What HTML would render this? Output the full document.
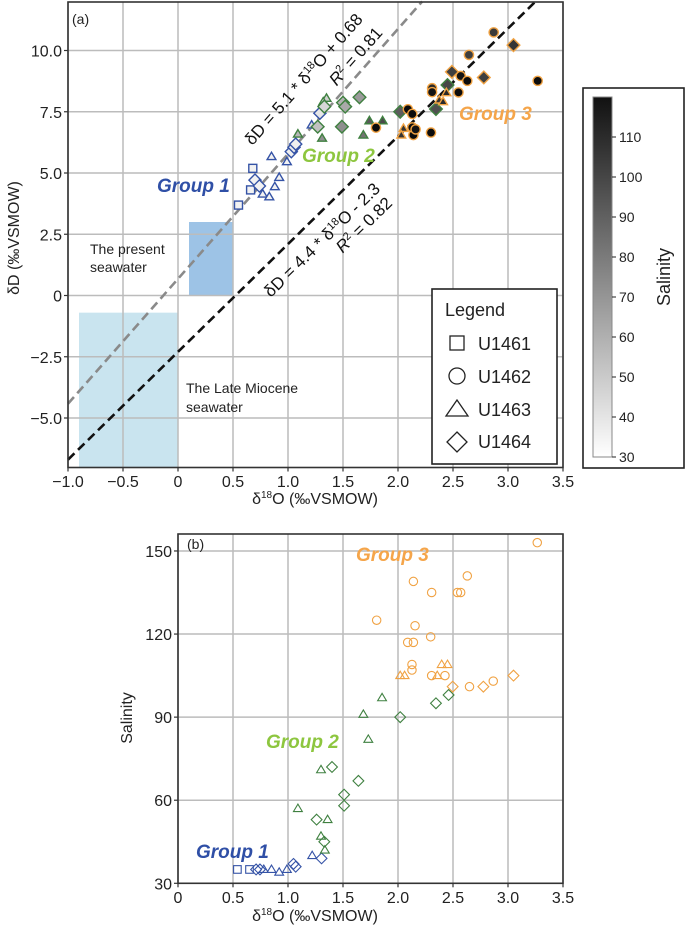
<!DOCTYPE html>
<html><head><meta charset="utf-8">
<style>
html,body{margin:0;padding:0;background:#fff;}
svg{display:block;font-family:"Liberation Sans",Arial,sans-serif;}
</style></head>
<body>
<svg id="fig" width="685" height="928" viewBox="0 0 685 928" xmlns="http://www.w3.org/2000/svg">
<defs>
<linearGradient id="cbg" x1="0" y1="1" x2="0" y2="0">
<stop offset="0" stop-color="#ffffff"/><stop offset="1" stop-color="#111111"/>
</linearGradient>
</defs>
<g id="pa"></g>
<g id="pb"></g>
</svg>
<script>
// ---------- Panel (a) data: [d18O, dD, salinity] ----------
const aXTicks = [-1.0,-0.5,0,0.5,1.0,1.5,2.0,2.5,3.0,3.5];
const aXTickLabels = ["\u22121.0","\u22120.5","0","0.5","1.0","1.5","2.0","2.5","3.0","3.5"];
const aYTicks = [-5,-2.5,0,2.5,5,7.5,10];
const aYTickLabels = ["\u22125.0","\u22122.5","0","2.5","5.0","7.5","10.0"];
const aG1Square = [[0.55,3.69,35],[0.68,5.19,35],[0.66,4.31,35]];
const aG1Diamond = [[0.70,4.71,35],[0.74,4.47,35],[1.03,5.87,36],[1.055,6.05,37],[1.07,6.18,36],[1.29,7.44,39]];
const aG1Triangle = [[0.77,4.14,35],[0.83,4.03,34],[0.88,4.44,35],[0.92,4.82,35],[0.85,5.67,35],[0.99,5.46,35],[1.215,6.96,40]];
const aG2Triangle = [[1.09,6.59,57],[1.31,6.42,71],[1.35,8.05,47],[1.74,7.13,91],[1.86,7.13,97],[1.685,6.55,82],[1.32,7.9,45]];
const aG2Diamond = [[1.27,6.89,53],[1.33,7.71,45],[1.50,7.87,58],[1.52,7.71,62],[1.65,8.09,67],[1.49,6.89,72],[2.02,7.50,90],[2.345,7.61,95],[2.45,8.59,98]];
const aG3Circle = [[1.80,6.85,125],[2.87,10.74,103],[2.645,9.82,101],[2.57,8.96,117],[2.63,8.76,135],[3.27,8.76,153],[2.31,8.46,109],[2.31,8.30,117],[2.55,8.29,135],[2.09,7.60,139],[2.13,7.41,123],[2.13,6.86,119],[2.14,6.55,135],[2.16,6.78,117],[2.30,6.65,141]];
const aG3Triangle = [[2.375,7.98,105],[2.41,7.91,109],[2.44,8.28,109],[2.05,6.82,105],[2.03,6.55,105]];
const aG3Diamond = [[2.49,9.13,101],[3.05,10.22,105],[2.78,8.90,101]];
const cbTicks = [30,40,50,60,70,80,90,100,110];

// ---------- Panel (b) data: [d18O, salinity] ----------
const bXTicks = [0,0.5,1.0,1.5,2.0,2.5,3.0,3.5];
const bXTickLabels = ["0","0.5","1.0","1.5","2.0","2.5","3.0","3.5"];
const bYTicks = [30,60,90,120,150];
const bG1Square = [[0.54,35],[0.65,35]];
const bG1Diamond = [[0.71,35],[0.745,35],[1.05,37],[1.07,36],[1.305,39]];
const bG1Triangle = [[0.78,35],[0.85,35],[0.92,34],[0.99,35],[1.22,40]];
const bG2Triangle = [[1.09,57],[1.36,53],[1.30,47],[1.335,42],[1.30,71],[1.685,91],[1.73,82],[1.855,97]];
const bG2Diamond = [[1.26,53],[1.33,45],[1.40,72],[1.51,62],[1.51,58],[1.64,67],[2.02,90],[2.345,95],[2.46,98]];
const bG3Circle = [[3.266,153],[1.806,125],[2.14,139],[2.306,135],[2.54,135],[2.57,135],[2.63,141],[2.155,123],[2.297,119],[2.088,117],[2.14,117],[2.127,109],[2.127,107],[2.306,105],[2.427,105],[2.65,101],[2.866,103]];
const bG3Triangle = [[2.02,105],[2.06,105],[2.357,105],[2.397,109],[2.45,109]];
const bG3Diamond = [[2.497,101],[2.776,101],[3.05,105]];

const NS="http://www.w3.org/2000/svg";
function mk(tag,attrs,parent){const e=document.createElementNS(NS,tag);for(const k in attrs)e.setAttribute(k,attrs[k]);parent.appendChild(e);return e;}
const BLUE="#3553a6",GREEN="#3f8040",ORANGE="#f0a243";

const axX=v=>178+110*v;
const aY=v=>295.5-24.5*v;
const bY=s=>883.3-(s-30)*2.7694;
function salGray(s){let t=(s-30)/90;t=Math.max(0,Math.min(1,t));const g=Math.round(255-243*t);return `rgb(${g},${g},${g})`;}

function marker(parent,shape,cx,cy,sz,fill,stroke,sw,name){
  let e;
  if(shape==="square"){e=mk("rect",{x:cx-sz,y:cy-sz,width:2*sz,height:2*sz},parent);}
  else if(shape==="circle"){e=mk("circle",{cx:cx,cy:cy,r:sz},parent);}
  else if(shape==="triangle"){e=mk("polygon",{points:`${cx},${cy-sz*1.1} ${cx-sz*1.1},${cy+sz*0.75} ${cx+sz*1.1},${cy+sz*0.75}`},parent);}
  else {e=mk("polygon",{points:`${cx},${cy-sz*1.35} ${cx+sz*1.35},${cy} ${cx},${cy+sz*1.35} ${cx-sz*1.35},${cy}`},parent);}
  e.setAttribute("fill",fill);e.setAttribute("stroke",stroke);e.setAttribute("stroke-width",sw);
  
  
  return e;
}
function txt(parent,x,y,s,attrs){const t=mk("text",Object.assign({x:x,y:y},attrs||{}),parent);t.textContent=s;return t;}

// ================= PANEL A =================
const pa=document.getElementById("pa");
const aL=68,aR=563,aT=2,aB=467.5;
let r=mk("rect",{x:axX(-0.9),y:aY(-0.7),width:axX(0)-axX(-0.9),height:aB-aY(-0.7),fill:"#c9e4ef"},pa);

r=mk("rect",{x:axX(0.1),y:aY(3.0),width:axX(0.5)-axX(0.1),height:aY(0)-aY(3.0),fill:"#9dc3e6"},pa);

for(const v of aXTicks){const l=mk("line",{x1:axX(v),x2:axX(v),y1:aT,y2:aB,stroke:"#bcbcbc","stroke-width":1.5},pa);}
for(const v of aYTicks){const l=mk("line",{x1:aL,x2:aR,y1:aY(v),y2:aY(v),stroke:"#bcbcbc","stroke-width":1.5},pa);}
function regLine(m,c,col,name){
  const x0=-1,y0=m*x0+c;let x1=(12-c)/m;if(x1>3.5)x1=3.5;const y1=m*x1+c;
  const l=mk("line",{x1:axX(x0),y1:aY(y0),x2:axX(x1),y2:aY(y1),stroke:col,"stroke-width":2.6,"stroke-dasharray":"9,5"},pa);
  
}
regLine(5.1,0.68,"#8a8a8a","regression-line-gray");
regLine(4.4,-2.3,"#111","regression-line-black");
function drawA(arr,shape,edge,sz,name){for(const p of arr){marker(pa,shape,axX(p[0]),aY(p[1]),sz,salGray(p[2]),edge,1.4,name);}}
drawA(aG1Square,"square",BLUE,4,"a-u1461-point");
drawA(aG1Triangle,"triangle",BLUE,4,"a-u1463-point");
drawA(aG1Diamond,"diamond",BLUE,4.5,"a-u1464-point");
drawA(aG2Triangle,"triangle",GREEN,4,"a-u1463-point");
drawA(aG2Diamond,"diamond",GREEN,4.7,"a-u1464-point");
drawA(aG3Circle,"circle",ORANGE,4.6,"a-u1462-point");
drawA(aG3Triangle,"triangle",ORANGE,4,"a-u1463-point");
drawA(aG3Diamond,"diamond",ORANGE,4.7,"a-u1464-point");
r=mk("rect",{x:aL,y:aT,width:aR-aL,height:aB-aT,fill:"none",stroke:"#333","stroke-width":1.6},pa);

aXTicks.forEach((v,i)=>{mk("line",{x1:axX(v),x2:axX(v),y1:aB,y2:aB+4,stroke:"#333","stroke-width":1.2},pa);
  const t=txt(pa,axX(v),487,aXTickLabels[i],{"font-size":16,"text-anchor":"middle",fill:"#222"});});
aYTicks.forEach((v,i)=>{mk("line",{x1:aL-4,x2:aL,y1:aY(v),y2:aY(v),stroke:"#333","stroke-width":1.2},pa);
  const t=txt(pa,62,aY(v)+6,aYTickLabels[i],{"font-size":16,"text-anchor":"end",fill:"#222"});});
</script>
<script>
(function(){
const pa=document.getElementById("pa");
pa.insertAdjacentHTML("beforeend",`
<text x="72" y="24" font-size="14" fill="#222">(a)</text>
<text x="315" y="504" font-size="16" text-anchor="middle" fill="#222">δ<tspan font-size="10" dy="-6">18</tspan><tspan dy="6">O (‰VSMOW)</tspan></text>
<text transform="translate(19,238) rotate(-90)" font-size="16" text-anchor="middle" fill="#222">δD (‰VSMOW)</text>
<text transform="translate(308,83) rotate(-48.6)" font-size="17" text-anchor="middle" fill="#111">δD = 5.1 * δ<tspan font-size="11" dy="-6">18</tspan><tspan dy="6">O + 0.68</tspan></text>
<text transform="translate(360,60) rotate(-48.6)" font-size="17" text-anchor="middle" fill="#111"><tspan font-style="italic">R</tspan><tspan font-size="11" dy="-6">2</tspan><tspan dy="6"> = 0.81</tspan></text>
<text transform="translate(326,244) rotate(-44.4)" font-size="17" text-anchor="middle" fill="#111">δD = 4.4 * δ<tspan font-size="11" dy="-6">18</tspan><tspan dy="6">O - 2.3</tspan></text>
<text transform="translate(368,229) rotate(-44.4)" font-size="17" text-anchor="middle" fill="#111"><tspan font-style="italic">R</tspan><tspan font-size="11" dy="-6">2</tspan><tspan dy="6"> = 0.82</tspan></text>
<text x="157" y="192" font-size="19" font-weight="bold" font-style="italic" fill="#2f4fa6">Group 1</text>
<text x="302" y="162" font-size="19" font-weight="bold" font-style="italic" fill="#8dc63f">Group 2</text>
<text x="459" y="120" font-size="19" font-weight="bold" font-style="italic" fill="#f5a54a">Group 3</text>
<text font-size="14" fill="#222"><tspan x="90" y="254">The present</tspan><tspan x="90" y="272">seawater</tspan></text>
<text font-size="14" fill="#222"><tspan x="186" y="393">The Late Miocene</tspan><tspan x="186" y="412">seawater</tspan></text>
<g>
<rect x="432" y="289" width="125" height="175" fill="#fff" stroke="#222" stroke-width="1.6"/>
<text x="445" y="316" font-size="18" fill="#222">Legend</text>
<rect x="450" y="336" width="14" height="14" fill="none" stroke="#222" stroke-width="1.3"/>
<text x="478" y="350" font-size="18" fill="#222">U1461</text>
<circle cx="457" cy="376" r="8" fill="none" stroke="#222" stroke-width="1.3"/>
<text x="478" y="383" font-size="18" fill="#222">U1462</text>
<polygon points="457,400 446,416 468,416" fill="none" stroke="#222" stroke-width="1.3"/>
<text x="478" y="416" font-size="18" fill="#222">U1463</text>
<polygon points="457,432 467,442 457,452 447,442" fill="none" stroke="#222" stroke-width="1.3"/>
<text x="478" y="448" font-size="18" fill="#222">U1464</text>
</g>
<g>
<rect x="583" y="88" width="101" height="380" fill="#fff" stroke="#222" stroke-width="1.6"/>
<rect x="593" y="97" width="19" height="360" fill="url(#cbg)" stroke="#888" stroke-width="1"/>
<text transform="translate(670,277) rotate(-90)" font-size="18" text-anchor="middle" fill="#222">Salinity</text>
</g>`);
const cb=pa.lastElementChild;
const cbY=s=>457-4*(s-30);
for(const s of cbTicks){
  mk("line",{x1:612,x2:616,y1:cbY(s),y2:cbY(s),stroke:"#222","stroke-width":1},cb);
  const t=txt(cb,619,cbY(s)+5,String(s),{"font-size":14,fill:"#222"});
  
  
}
})();

// ================= PANEL B =================
(function(){
const pb=document.getElementById("pb");
const bL=178,bR=563,bT=534,bB=883.3;
for(const v of bXTicks){const l=mk("line",{x1:axX(v),x2:axX(v),y1:bT,y2:bB,stroke:"#bcbcbc","stroke-width":1.5},pb);}
for(const v of bYTicks){const l=mk("line",{x1:bL,x2:bR,y1:bY(v),y2:bY(v),stroke:"#bcbcbc","stroke-width":1.5},pb);}
function drawB(arr,shape,edge,sz,name){for(const p of arr){marker(pb,shape,axX(p[0]),bY(p[1]),sz,"none",edge,1.1,name);}}
drawB(bG1Square,"square",BLUE,3.8,"b-u1461-point");
drawB(bG1Triangle,"triangle",BLUE,4,"b-u1463-point");
drawB(bG1Diamond,"diamond",BLUE,4,"b-u1464-point");
drawB(bG2Triangle,"triangle",GREEN,4,"b-u1463-point");
drawB(bG2Diamond,"diamond",GREEN,4,"b-u1464-point");
drawB(bG3Circle,"circle",ORANGE,4.2,"b-u1462-point");
drawB(bG3Triangle,"triangle",ORANGE,4,"b-u1463-point");
drawB(bG3Diamond,"diamond",ORANGE,4,"b-u1464-point");
const fr=mk("rect",{x:bL,y:bT,width:bR-bL,height:bB-bT,fill:"none",stroke:"#333","stroke-width":1.6},pb);

bXTicks.forEach((v,i)=>{mk("line",{x1:axX(v),x2:axX(v),y1:bB,y2:bB+4,stroke:"#333","stroke-width":1.2},pb);
  const t=txt(pb,axX(v),903,bXTickLabels[i],{"font-size":16,"text-anchor":"middle",fill:"#222"});});
bYTicks.forEach(v=>{mk("line",{x1:bL-4,x2:bL,y1:bY(v),y2:bY(v),stroke:"#333","stroke-width":1.2},pb);
  const t=txt(pb,172,bY(v)+6,String(v),{"font-size":16,"text-anchor":"end",fill:"#222"});});
pb.insertAdjacentHTML("beforeend",`
<text x="187" y="549" font-size="14" fill="#222">(b)</text>
<text x="315" y="921" font-size="16" text-anchor="middle" fill="#222">δ<tspan font-size="10" dy="-6">18</tspan><tspan dy="6">O (‰VSMOW)</tspan></text>
<text transform="translate(132,718) rotate(-90)" font-size="16" text-anchor="middle" fill="#222">Salinity</text>
<text x="196" y="858" font-size="19" font-weight="bold" font-style="italic" fill="#2f4fa6">Group 1</text>
<text x="266" y="748" font-size="19" font-weight="bold" font-style="italic" fill="#8dc63f">Group 2</text>
<text x="356" y="561" font-size="19" font-weight="bold" font-style="italic" fill="#f5a54a">Group 3</text>`);
})();
</script>
</body></html>
